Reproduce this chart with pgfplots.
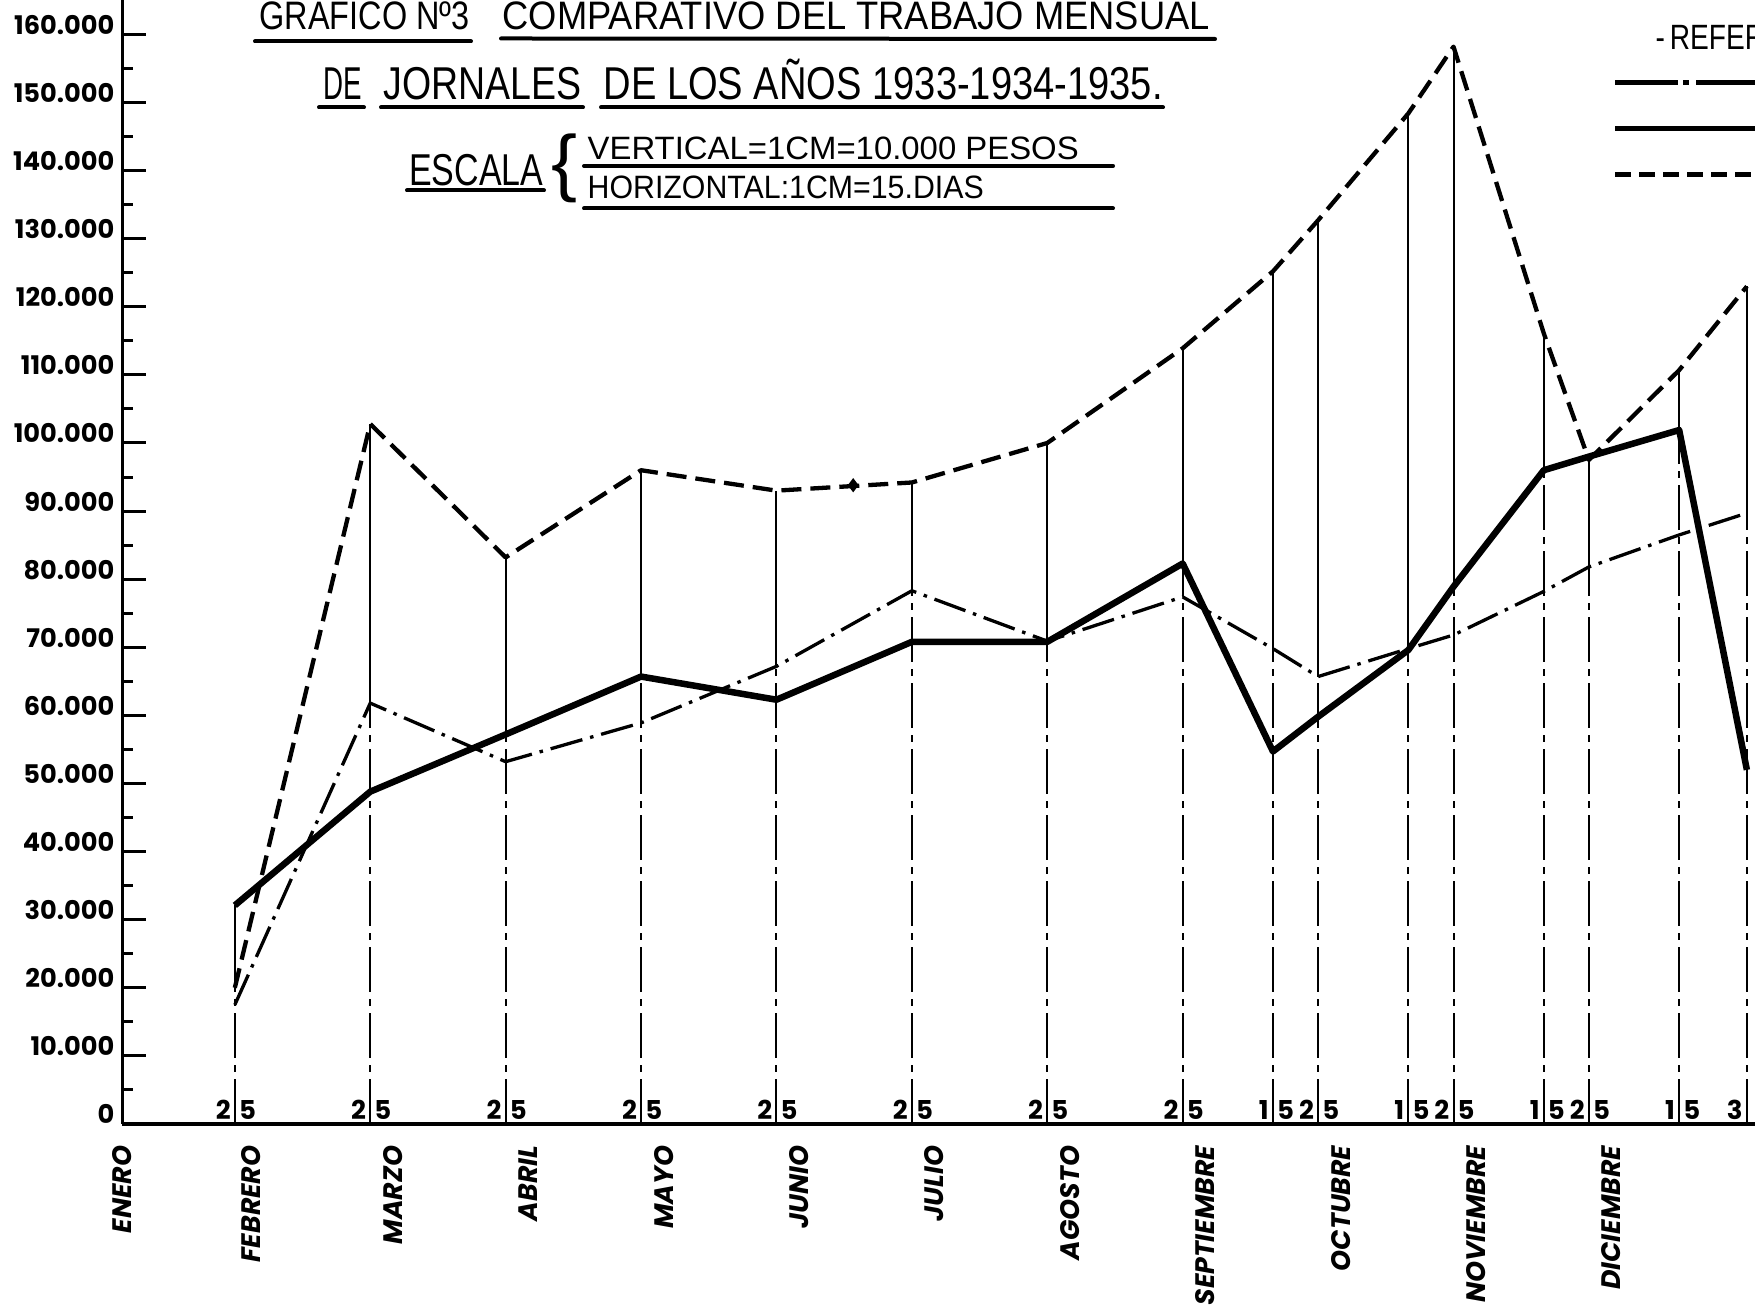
\documentclass[border=0pt]{standalone}
\usepackage{pgfplots}
\pgfplotsset{compat=1.18}
\usepackage{pgfplotstable}
\usepackage{graphicx}
\usepackage{fontspec}
\newfontfamily\pop{Poppins}
\newfontfamily\lib{Liberation Sans}

% months as x units: 0 = 1 enero, 1 = 1 febrero, ...; 25th = .8333
\pgfplotstableread{
x y
0.8333 17500
1.8333 61800
2.8333 53200
3.8333 58900
4.8333 67200
5.8333 78300
6.8333 70900
7.8333 77400
8.5 69800
8.8333 65700
9.5 69800
9.8333 71800
10.5 78200
10.8333 81800
11.5 86500
12.0 89700
}\tabdd

\pgfplotstableread{
x y
0.8333 32100
1.8333 48800
2.8333 57200
3.8333 65700
4.8333 62300
5.8333 70800
6.8333 70800
7.8333 82300
8.5 54700
8.8333 59800
9.5 69600
9.8333 78900
10.5 96000
10.8333 98000
11.5 101900
12.0 52000
}\tabsol

\pgfplotstableread{
x y
0.8333 20000
1.8333 102800
2.8333 83200
3.8333 96000
4.8333 93000
5.8333 94200
6.8333 100000
7.8333 113900
8.5 125200
8.8333 132700
9.5 148400
9.8333 158200
10.5 116100
10.8333 97500
11.5 110700
12.0 123000
}\tabdash

% vertical date lines: lower part dash-dot up to the middle value
\pgfplotstableread{
x y
0.8333 20000
1.8333 61800
2.8333 57200
3.8333 65700
4.8333 67200
5.8333 78300
6.8333 70900
7.8333 82300
8.5 69800
8.8333 65700
9.5 69800
9.8333 78900
10.5 96000
10.8333 81800
11.5 101900
12.0 89700
}\tabcomb

% upper part solid, from middle value to top value
\pgfplotstableread{
x y
0.8333 20000
0.8333 32100
0.8333 nan
1.8333 61800
1.8333 102800
1.8333 nan
2.8333 57200
2.8333 83200
2.8333 nan
3.8333 65700
3.8333 96000
3.8333 nan
4.8333 67200
4.8333 93000
4.8333 nan
5.8333 78300
5.8333 94200
5.8333 nan
6.8333 70900
6.8333 100000
6.8333 nan
7.8333 82300
7.8333 113900
7.8333 nan
8.5 69800
8.5 125200
8.5 nan
8.8333 65700
8.8333 132700
8.8333 nan
9.5 69800
9.5 148400
9.5 nan
9.8333 78900
9.8333 158200
9.8333 nan
10.5 96000
10.5 116100
10.5 nan
10.8333 81800
10.8333 98000
10.8333 nan
11.5 101900
11.5 110700
11.5 nan
12.0 89700
12.0 123000
}\tabseg

\tikzset{
  dig/.style={font=\pop\bfseries\fontsize{7.4}{8}\selectfont, inner sep=0pt, yshift=0.4mm},
  T/.style={anchor=base west, inner sep=0pt},
  ul/.style={line width=0.4mm, line cap=round},
}

\begin{document}
\begin{tikzpicture}
\path[use as bounding box, clip] (0,0) rectangle (175.5mm,130.8mm);
\begin{axis}[
  at={(12.2mm,18.4mm)}, anchor=south west,
  scale only axis, width=163.3mm, height=112.4mm,
  xmin=0, xmax=12.06, ymin=0, ymax=165050,
  axis lines=left,
  x axis line style={-, line width=0.45mm},
  y axis line style={-, line width=0.3mm},
  ytick={0,10000,...,160000}, minor y tick num=1,
  tick align=inside,
  major tick length=2.4mm, minor tick length=1.1mm,
  tick style={black, line width=0.3mm},
  xtick style={draw=none},
  scaled y ticks=false,
  /pgf/number format/assume math mode=true,
  yticklabel={\pgfmathprintnumber{\tick}},
  yticklabel style={font=\pop\bfseries\fontsize{7.3}{8}\selectfont, anchor=base east, inner sep=0pt, xshift=-0.7mm,
    /pgf/number format/fixed, /pgf/number format/precision=0, /pgf/number format/1000 sep={.}},
  xtick={0,0.95,2,3,4,5,6,7,8,9,10,11},
  xticklabels={ENERO,FEBRERO,MARZO,ABRIL,MAYO,JUNIO,JULIO,AGOSTO,SEPTIEMBRE,OCTUBRE,NOVIEMBRE,DICIEMBRE},
  xticklabel style={font=\pop\bfseries\itshape\fontsize{7.6}{9}\selectfont, rotate=90, anchor=east, inner sep=0pt},
  xticklabel shift=2.1mm,
  legend style={at={(0.9126,0.9476)}, anchor=north west, draw=none, fill=none, inner sep=0pt,
    row sep=0pt, font=\lib\fontsize{10}{10}\selectfont,
    nodes={inner sep=0pt, text height=2.3mm, text depth=2.3mm}},
  legend cell align=left,
  legend image code/.code={\draw[#1] (0mm,0mm) -- (16mm,0mm);},
]
% fechas
\addplot[ycomb, black, line width=0.2mm, dash pattern=on 4.5mm off 0.7mm on 0.7mm off 0.7mm, forget plot] table {\tabcomb};
\addplot[black, line width=0.2mm, unbounded coords=jump, forget plot] table {\tabseg};

% 1933
\addplot[black, line width=0.33mm, line join=round, dash pattern=on 3.3mm off 0.8mm on 0.35mm off 0.8mm,
  legend image post style={line width=0.5mm, dash pattern=on 6.3mm off 0.5mm on 0.6mm off 0.7mm}] table {\tabdd};
\addlegendentry{}
% 1934
\addplot[black, line width=0.65mm, line join=round,
  legend image post style={line width=0.5mm}] table {\tabsol};
\addlegendentry{}
% 1935
\addplot[black, line width=0.43mm, line join=round, dash pattern=on 2mm off 0.9mm,
  legend image post style={line width=0.5mm, dash pattern=on 1.6mm off 0.8mm}] table {\tabdash};
\addlegendentry{}

\addplot[only marks, mark=diamond*, mark size=0.6mm, black, forget plot] coordinates {(5.40,93800)};

\foreach \p/\a/\b in {0.8333/2/5, 1.8333/2/5, 2.8333/2/5, 3.8333/2/5, 4.8333/2/5, 5.8333/2/5,
    6.8333/2/5, 7.8333/2/5, 8.5/1/5, 8.8333/2/5, 9.5/1/5, 9.8333/2/5, 10.5/1/5, 10.8333/2/5,
    11.5/1/5} {
  \edef\tmp{\noexpand\node[dig, anchor=base east, xshift=-0.35mm] at (axis cs:\p,0) {\a};
    \noexpand\node[dig, anchor=base west, xshift=0.35mm] at (axis cs:\p,0) {\b};}
  \tmp
}
\node[dig, anchor=base east, xshift=-0.35mm] at (axis cs:12.0,0) {3};
\end{axis}

% titulos, en pixeles de la imagen (y hacia abajo)
\begin{scope}[shift={(0mm,130.8mm)}, x=0.1mm, y=-0.1mm]
\node[T] at (259,30) {\resizebox{21.0mm}{\height}{\lib\fontsize{11.3}{13}\selectfont GRAFICO Nº3}};
\node[T] at (502,30) {\resizebox{70.7mm}{\height}{\lib\fontsize{11.3}{13}\selectfont COMPARATIVO DEL TRABAJO MENSUAL}};
\draw[ul] (255,41.5) -- (471,41.5);
\draw[ul] (501,38.5) -- (1215,39);

\node[T] at (322.5,100) {\resizebox{3.85mm}{\height}{\lib\fontsize{13.1}{15}\selectfont DE}};
\node[T] at (383,100) {\resizebox{19.8mm}{\height}{\lib\fontsize{13.1}{15}\selectfont JORNALES}};
\node[T] at (603,100) {\resizebox{55.9mm}{\height}{\lib\fontsize{13.1}{15}\selectfont DE LOS AÑOS 1933-1934-1935.}};
\draw[ul] (319,107.5) -- (364,107.5);
\draw[ul] (381,107.5) -- (583,107.5);
\draw[ul] (601,107.5) -- (1163,107.5);

\node[T] at (408.6,185.5) {\resizebox{13.4mm}{\height}{\lib\fontsize{12.7}{15}\selectfont ESCALA}};
\draw[ul] (407,190.5) -- (544,190.5);
\node[inner sep=0pt] at (564,168) {\resizebox*{2.6mm}{6.9mm}{\lib\{}};
\node[T] at (587,160) {\resizebox{49.1mm}{\height}{\lib\fontsize{9.2}{11}\selectfont VERTICAL=1CM=10.000 PESOS}};
\draw[ul] (584,166) -- (1113,166);
\node[T] at (587,199) {\resizebox{39.6mm}{\height}{\lib\fontsize{9.2}{11}\selectfont HORIZONTAL:1CM=15.DIAS}};
\draw[ul] (584,208.5) -- (1113,208.5);

\node[T] at (1655,50) {\scalebox{0.8}[1]{\lib\fontsize{10}{12}\selectfont -\,REFERENCIAS}};
\end{scope}
\end{tikzpicture}
\end{document}
